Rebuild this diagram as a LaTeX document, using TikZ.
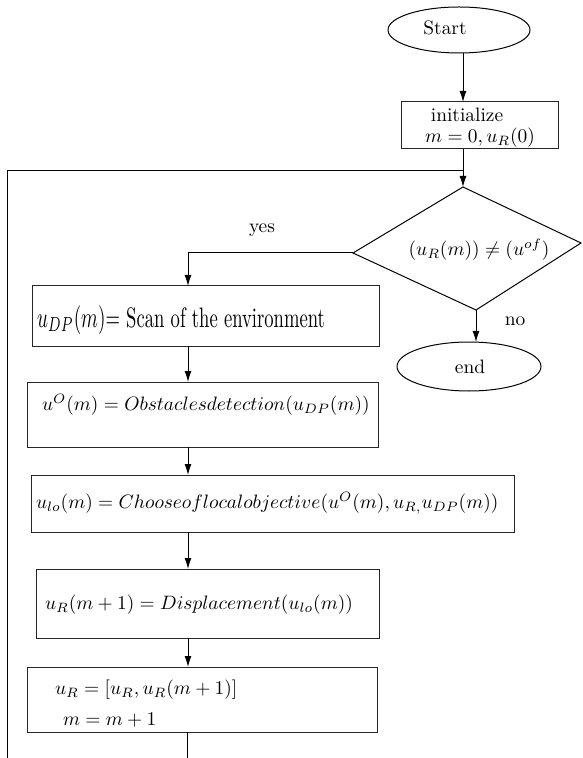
\documentclass[tikz,border=0pt]{standalone}
\usetikzlibrary{shapes.geometric,arrows.meta}
\newcommand{\mymath}[1]{\scalebox{0.97}{$#1$}}
\begin{document}
\begin{tikzpicture}[x=0.5pt,y=-0.5pt,
  every node/.style={font=\fontsize{9.7}{11.5}\selectfont, inner sep=0pt, outer sep=0pt},
  box/.style={draw=black!85, line width=0.5pt, rectangle},
  oval/.style={draw=black, line width=0.5pt, ellipse},
  conn/.style={draw=black, line width=0.5pt},
  arr/.style={conn, -{Latex[length=5.5pt,width=3.5pt]}},
  txt/.style={anchor=west}]
\useasboundingbox (0,0) rectangle (582,758);

% start and init
\node[oval, minimum width=71pt, minimum height=23pt] (start) at (459,30) {};
\node (starttxt) at (445,28) {Start};
\node[box, minimum width=78.5pt, minimum height=23.5pt] (init) at (479.5,125.5) {};
\node (inittxt1) at (467,115) {initialize};
\node (inittxt2) at (480,138) {\mymath{m=0,u_R(0)}};

% decision
\coordinate (dT) at (463,187);
\coordinate (dL) at (353,253);
\coordinate (dR) at (581,243);
\coordinate (dB) at (476,310);
\draw[conn] (dT) -- (dR) -- (dB) -- (dL) -- cycle;
\node (dtxt) at (479,250) {\mymath{(u_R(m))\neq(u^{of})}};

% end
\node[oval, minimum width=72pt, minimum height=24.5pt] (endn) at (469,366.5) {};
\node (endtxt) at (470,367) {end};
\node (no) at (515,321) {no};
\node (yes) at (262,230) {yes};

% process boxes
\node[box, minimum width=173.5pt, minimum height=30pt] (scan) at (205.5,316) {};
\node[txt] (scantxt) at (37,320) {\scalebox{0.96}[1.45]{$u_{DP}(m)$= Scan of the environment}};

\node[box, minimum width=175.5pt, minimum height=32.5pt] (obst) at (202.5,414.5) {};
\node[txt] (obsttxt) at (42,405) {\mymath{u^{O}(m)=Obstaclesdetection(u_{DP}(m))}};

\node[box, minimum width=241.5pt, minimum height=28.5pt] (choose) at (272.5,503.5) {};
\node[txt] (choosetxt) at (36,503) {\mymath{u_{lo}(m)=Chooseoflocalobjective(u^{O}(m),u_{R,}u_{DP}(m))}};

\node[box, minimum width=171.5pt, minimum height=34.5pt] (disp) at (207.5,603.5) {};
\node[txt] (disptxt) at (45,605) {\mymath{u_R(m+1)=Displacement(u_{lo}(m))}};

\node[box, minimum width=175pt, minimum height=32.5pt] (upd) at (202,699.5) {};
\node[txt] (updtxt1) at (55,690) {\mymath{u_R=[u_R,u_R(m+1)]}};
\node[txt] (updtxt2) at (63,720) {\mymath{m=m+1}};

% connectors
\coordinate (yc) at (188,253);
\coordinate (lj) at (463,171);
\coordinate (lb) at (7,758);
\coordinate (ub) at (187,758);

\draw[arr] (start.south -| dT) -- (init.north -| dT);
\draw[arr] (init.south -| dT) -- (dT);
\draw[conn] (lb) |- (lj);
\draw[arr] (dL) -- (yc) -- (yc |- scan.north);
\draw[arr] (dB) -- (endn.north -| dB);
\draw[arr] (scan.south -| yc) -- (obst.north -| yc);
\draw[arr] (obst.south -| yc) -- (choose.north -| yc);
\draw[arr] (choose.south -| yc) -- (disp.north -| yc);
\draw[arr] (disp.south -| yc) -- (upd.north -| yc);
\draw[conn] (upd.south -| ub) -- (ub);
\end{tikzpicture}
\end{document}
